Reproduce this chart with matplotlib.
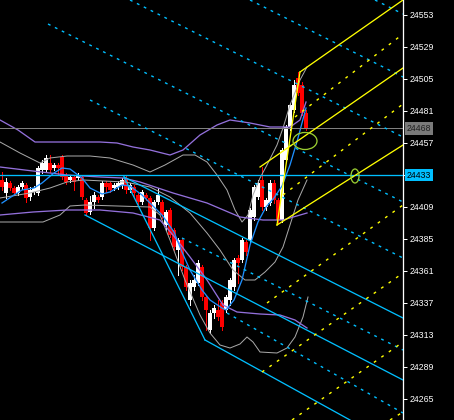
import matplotlib
matplotlib.use('Agg')
import matplotlib.pyplot as plt
from matplotlib.patches import Ellipse
from matplotlib import transforms

# ---------------- data (bar index = candle number) ----------------
opens = [24429, 24419.5, 24427, 24423, 24419.5, 24424, 24425.5, 24416.5, 24420, 24419.5,
         24437, 24437, 24442, 24438, 24440.5, 24446.5, 24433, 24429, 24431.5, 24431,
         24431.5, 24414, 24405, 24413, 24416.5, 24416.5, 24427, 24427, 24423, 24424,
         24425.5, 24431, 24422, 24424, 24418, 24413, 24418, 24416, 24393, 24413,
         24413, 24395.5, 24407, 24392, 24377, 24384, 24364, 24339, 24349, 24352,
         24364, 24341.5, 24317, 24329.5, 24332, 24337, 24332, 24339, 24349, 24371,
         24369, 24383, 24384, 24401.5, 24416.5, 24429, 24409, 24412, 24427, 24414,
         24399, 24444, 24469, 24482, 24506, 24500.5, 24479.5]
closes = [24424, 24428, 24423, 24419.5, 24424, 24427, 24416, 24422, 24423, 24438,
          24442, 24446, 24437, 24440.5, 24438, 24431.5, 24428, 24431.5, 24428, 24433,
          24416.5, 24404.5, 24413, 24418, 24414, 24427, 24424, 24422, 24425.5, 24427,
          24429, 24422, 24425.5, 24419.5, 24413, 24420, 24416, 24393, 24413, 24418,
          24403, 24405, 24388, 24379, 24384, 24364, 24349, 24352, 24354, 24367,
          24341.5, 24332, 24329.5, 24333, 24326.5, 24319, 24341.5, 24354, 24369, 24367,
          24384, 24375, 24407, 24424, 24427, 24409, 24414, 24427, 24414, 24399,
          24452, 24469, 24485.5, 24500.5, 24494.5, 24479.5, 24468]
highs = [24435, 24431, 24428.5, 24425, 24425.5, 24428.5, 24427, 24424, 24425, 24440,
         24444, 24448, 24448, 24442, 24442, 24448, 24434.5, 24433, 24432, 24434.5,
         24433, 24416, 24417, 24420, 24418, 24428.5, 24428.5, 24428, 24427, 24428.5,
         24431, 24432, 24427, 24425.5, 24419.5, 24422, 24419.5, 24417, 24414, 24423,
         24414, 24407, 24408, 24393, 24386, 24386, 24365.5, 24354, 24358, 24369,
         24365.5, 24343, 24332, 24335.5, 24339, 24339, 24343, 24356, 24371, 24373,
         24386, 24384, 24408, 24425.5, 24429, 24439, 24416, 24429, 24429, 24416,
         24453, 24470.5, 24487, 24504, 24510, 24503, 24482]
lows = [24422, 24416, 24422, 24418, 24418, 24422.5, 24413, 24414, 24419, 24418,
        24434.5, 24436, 24435, 24437, 24433, 24430, 24426, 24428, 24422, 24429,
        24415, 24403, 24404, 24408, 24413, 24415, 24420, 24420, 24422, 24422.5,
        24423, 24419.5, 24420, 24416, 24411, 24411, 24414, 24384, 24392, 24411,
        24401, 24392, 24386.5, 24377, 24358, 24362, 24347, 24335.5, 24347, 24350.5,
        24339, 24317, 24314.5, 24326, 24324, 24317, 24330, 24335.5, 24347, 24352,
        24368, 24373, 24383, 24399, 24415, 24407, 24407, 24410.5, 24412, 24397,
        24398, 24443, 24467, 24480, 24493, 24478, 24466.5]

# moving average (blue)
ma_idx = [0, 3, 5, 8, 10, 13, 15, 17, 20, 22, 25, 27, 30, 32, 35, 37, 40, 43, 45, 47,
          50, 52, 55, 56, 58, 60, 62, 64, 66, 68, 70, 72, 74, 76]
ma_val = [24412, 24418, 24421.75, 24423.25, 24427, 24434.5, 24438.25, 24437.5, 24430.75, 24423.25,
          24418.75, 24420.25, 24425.5, 24424.75, 24418, 24412, 24403, 24390.25, 24375.25, 24361.75,
          24346.75, 24339.25, 24333.25, 24331.75, 24339.25, 24354.25, 24380.5, 24397.75, 24409, 24415.75,
          24424.75, 24440.5, 24460.75, 24483.25]

# wide bands (purple)
pu_idx = [-0.5, 4, 8.25, 24.5, 28.75, 32.75, 37, 42, 45.25, 49.5, 53.75, 57, 62, 67, 72, 74.5, 76]
pu_val = [24474.25, 24466.75, 24457.75, 24457.75, 24457, 24454, 24451.75, 24448, 24451.75, 24463,
          24470.5, 24474.25, 24472, 24469, 24469, 24474.25, 24487.75]
pm_idx = [-0.5, 7.75, 16.25, 24.5, 30.25, 34.5, 42.75, 51.25, 59.5, 65.25, 70.25, 76.25]
pm_val = [24439, 24436, 24433, 24431.5, 24430.75, 24427.75, 24419.5, 24412, 24401.5, 24399.25,
          24399.25, 24404.5]
pl_idx = [-0.5, 7.75, 16.25, 24.5, 32.75, 39.5, 42.75, 47, 51.25, 55.25, 58.75, 64.5, 69.5, 73.25, 76.25]
pl_val = [24403, 24405.25, 24406.75, 24406.75, 24404.5, 24399.25, 24388, 24371.5, 24354.25, 24335.5,
          24330.25, 24328.75, 24328, 24324.25, 24318.25]

# narrow bands (gray)
gu_idx = [-0.5, 4.5, 9.5, 12, 16.25, 22, 27, 32.75, 37, 40.75, 45.25, 48.25, 51.25, 53.75, 56.25,
          58.25, 60, 61.5, 62.75, 64.5, 66.25, 68.75, 70.25, 72, 74.5, 76.25]
gu_val = [24457.75, 24449.5, 24442, 24445.75, 24447.25, 24447.25, 24445.75, 24440.5, 24435.25, 24440.5,
          24448, 24448, 24442.75, 24433, 24421.75, 24406.75, 24397.75, 24403, 24418, 24430.75,
          24440.5, 24455.5, 24468.25, 24485.5, 24504.25, 24514]
gm_idx = [-0.5, 7, 12, 16.25, 20.25, 30.75, 37, 42, 47, 51.25, 54.5, 57.75, 60.75, 63.25, 65.75,
          68.25, 70.25, 72, 74, 76.25]
gm_val = [24415.75, 24419.5, 24423.25, 24427.75, 24429.25, 24427.75, 24424, 24416.5, 24404.5, 24389.5,
          24376.75, 24361.75, 24354.25, 24354.25, 24360.25, 24367.75, 24379, 24395.5, 24414.25, 24429.25]
gl_idx = [-0.5, 10.25, 14.5, 17, 20.75, 37, 39.5, 42, 45.75, 49.5, 52, 54.5, 57, 59.5, 61.25,
          62.75, 64.5, 68.75, 71.25, 73.25, 75.25, 76.5]
gl_val = [24397.75, 24397.75, 24403, 24409.75, 24410.5, 24409, 24403, 24384.25, 24354.25, 24328,
          24314.5, 24305.5, 24303.25, 24306.25, 24311.5, 24307.75, 24300.25, 24299.5, 24303.25, 24311.5,
          24326.5, 24341.5]

# horizontal levels
level_close = 24468
level_cyan = 24433

# descending pitchfork (cyan): segments (x0, y0, x1, y1) in bar index / price
fork_solid = [(30.5, 24431.5, 50.75, 24309.25),
              (30.5, 24431.5, 100.25, 24325.75),
              (20.75, 24403, 100.25, 24279.25),
              (50.75, 24309.25, 87, 24249.25)]
fork_dashed = [(93.25, 24564.25, 100.25, 24553.75),
               (62, 24564.25, 100.25, 24506.5),
               (32, 24564.25, 100.25, 24461.5),
               (11.5, 24546.25, 100.25, 24412.75),
               (22, 24489.25, 100.25, 24370.75),
               (45, 24385.75, 100.25, 24301.75),
               (56.25, 24329.5, 100.25, 24254.5)]

# ascending pitchfork (yellow)
yfork_solid = [(68.75, 24395.5, 74.5, 24510.25),
               (68.75, 24395.5, 100.25, 24455.5),
               (74.5, 24510.25, 100.25, 24564.25),
               (64.5, 24439, 100.25, 24513.25)]
yfork_dashed = [(73.25, 24476.5, 100.25, 24538.75),
                (70.25, 24418, 100.25, 24486.25),
                (66.25, 24337, 100.25, 24410.5),
                (65, 24285.25, 100.25, 24359.5),
                (72.5, 24249.25, 100.25, 24307.75),
                (97, 24249.25, 100.25, 24255.25)]

# ellipses: (center index, center price, width in bars, height in price)
ellipses = [(75.75, 24458.5, 6, 12.75), (88.25, 24432.25, 2, 10.5)]

yticks = list(range(24265, 24554, 24))

# ---------------- drawing ----------------
W, H = 454, 420
fig = plt.figure(figsize=(W / 100, H / 100), dpi=100, facecolor='black')
ax = fig.add_axes([0, 0, 403 / W, 1], facecolor='black')
ax.set_xlim(-0.5, 100.25)
ax.set_ylim(24249.25, 24564.25)

px = 0.72
n = len(opens)
for i in range(n):
    o, c, h, l = opens[i], closes[i], highs[i], lows[i]
    col = 'white' if c >= o else '#ff0000'
    ax.vlines(i, l, h, color=col, linewidth=px, zorder=3, antialiased=False)
    bottom = min(o, c)
    height = max(abs(c - o), 0.75)
    ax.bar(i, height, bottom=bottom, width=0.78, color=col, edgecolor='none', zorder=3,
           antialiased=False)

# indicators
ax.plot(gu_idx, gu_val, color='#a8a8a8', lw=px, zorder=4)
ax.plot(gm_idx, gm_val, color='#a8a8a8', lw=px, zorder=4)
ax.plot(gl_idx, gl_val, color='#a8a8a8', lw=px, zorder=4)
ax.plot(pu_idx, pu_val, color='#9370db', lw=px * 1.3, zorder=4)
ax.plot(pm_idx, pm_val, color='#9370db', lw=px * 1.3, zorder=4)
ax.plot(pl_idx, pl_val, color='#9370db', lw=px * 1.3, zorder=4)
ax.plot(ma_idx, ma_val, color='#1e90ff', lw=px * 1.3, zorder=5)

# horizontal levels
ax.axhline(level_close, color='#808080', lw=px, zorder=5)
ax.axhline(level_cyan, color='#00bfff', lw=px * 1.3, zorder=5)

cyan = '#00bfff'
for x0, y0, x1, y1 in fork_solid:
    ax.plot([x0, x1], [y0, y1], color=cyan, lw=px * 1.3, zorder=6)
for x0, y0, x1, y1 in fork_dashed:
    ax.plot([x0, x1], [y0, y1], color=cyan, lw=px * 1.4, ls=(0, (2, 3.5)), zorder=6)

yel = '#ffff00'
for x0, y0, x1, y1 in yfork_solid:
    ax.plot([x0, x1], [y0, y1], color=yel, lw=px * 1.3, zorder=6)
for x0, y0, x1, y1 in yfork_dashed:
    ax.plot([x0, x1], [y0, y1], color=yel, lw=px * 1.4, ls=(0, (2, 4.5)), zorder=6)

for cx, cy, w, h in ellipses:
    ax.add_patch(Ellipse((cx, cy), w, h, fill=False, edgecolor='#9acd32', lw=px * 1.3, zorder=7))

# axis styling
for s in ['left', 'top', 'bottom']:
    ax.spines[s].set_visible(False)
ax.spines['right'].set_color('white')
ax.spines['right'].set_linewidth(px * 1.3)
ax.set_xticks([])
ax.yaxis.tick_right()
ax.set_yticks(yticks)
# the 24433 tick label is hidden under the level box, so leave it blank
ax.set_yticklabels(['' if t == level_cyan else str(t) for t in yticks])
ax.tick_params(axis='y', colors='white', length=3, width=px, pad=1.5,
               labelsize=6.3, labelcolor='white')
for lab in ax.get_yticklabels():
    lab.set_fontfamily('Liberation Sans')

trans = transforms.blended_transform_factory(ax.transAxes, ax.transData)
ax.text(1.0 + 4 / 403, level_close, str(level_close), transform=trans, va='center', ha='left',
        fontsize=6.3, family='Liberation Sans', color='#202020', clip_on=False, zorder=10,
        bbox=dict(boxstyle='square,pad=0.2', fc='#7a7a7a', ec='none'))
ax.text(1.0 + 4 / 403, level_cyan, str(level_cyan), transform=trans, va='center', ha='left',
        fontsize=6.3, family='Liberation Sans', color='#000000', clip_on=False, zorder=10,
        bbox=dict(boxstyle='square,pad=0.2', fc='#00bfff', ec='none'))

fig.savefig('out.png', dpi=100, facecolor='black')
